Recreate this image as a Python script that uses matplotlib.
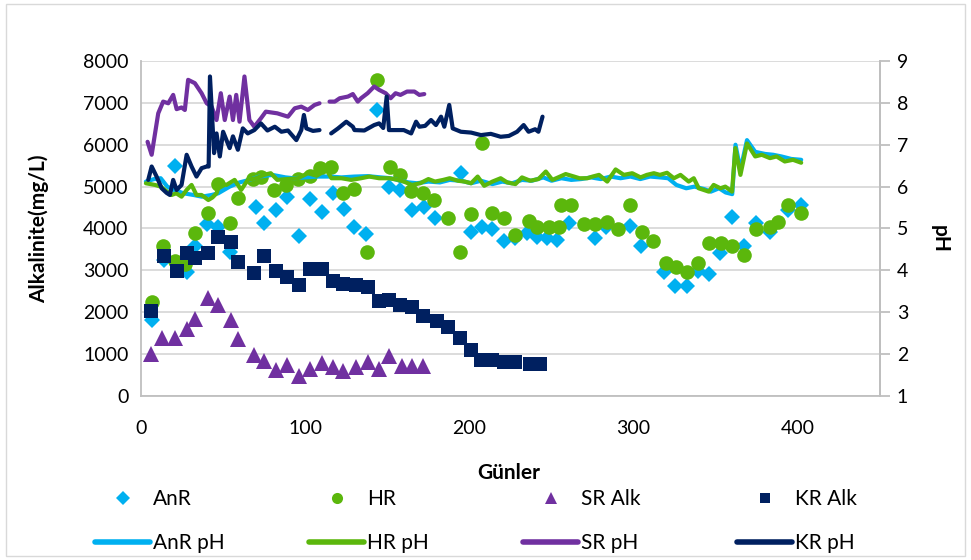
import numpy as np
import matplotlib
matplotlib.use("Agg")
import matplotlib.pyplot as plt
from matplotlib.lines import Line2D
from matplotlib.patches import Rectangle

plt.rcParams['font.family'] = ['Lato', 'DejaVu Sans']

# Alkalinity (mg/L) per reactor
anr_days = [6.5, 14, 20.7, 28, 33, 40, 47, 54, 70, 75, 82, 89, 96, 103, 110, 117, 123.5, 130, 137,
            144, 151, 158, 165, 172.5, 179, 195, 201, 207.6, 214, 221, 228, 235, 241, 247.5, 253.5,
            260.6, 276.4, 283, 297.7, 304.7, 318.7, 325.4, 332.5, 339.2, 346, 352.8, 360, 367.4,
            374.7, 383, 394, 402]
anr_alk = [1815, 3250, 5490, 2970, 3570, 4100, 4040, 3450, 4520, 4140, 4440, 4740, 3830, 4700, 4400,
           4840, 4460, 4040, 3880, 6830, 5000, 4920, 4440, 4520, 4240, 5320, 3920, 4040, 3980, 3690,
           3770, 3900, 3790, 3770, 3730, 4130, 3770, 4040, 4060, 3570, 2950, 2630, 2630, 2990, 2910,
           3410, 4280, 3580, 4140, 3920, 4430, 4560]

hr_days = [6.5, 13.6, 21, 27, 33, 40.5, 46.6, 54, 59, 68, 73, 81, 88.5, 95.6, 102.7, 109, 116, 123,
           130, 137.5, 144, 151.5, 158, 164.5, 171.5, 178.6, 187, 194.4, 201, 207.4, 214, 221, 228,
           236, 241, 248.5, 254.5, 255.6, 261.7, 270, 276.4, 283.5, 290.6, 297.7, 304.8, 311.7,
           319.4, 326, 332.5, 339.2, 346, 353, 360, 367.4, 374.7, 383, 388, 394, 402]
hr_alk = [2250, 3570, 3230, 3140, 3890, 4370, 5060, 4130, 4720, 5180, 5240, 4920, 5040, 5170, 5250,
          5440, 5480, 4840, 4940, 3450, 7550, 5460, 5280, 4900, 4840, 4670, 4260, 3450, 4350, 6050,
          4370, 4260, 3850, 4180, 4040, 4040, 4040, 4560, 4560, 4110, 4110, 4160, 3980, 4550, 3920,
          3710, 3180, 3090, 2970, 3180, 3650, 3650, 3570, 3370, 3980, 4040, 4160, 4550, 4380]

sr_days = [6, 13, 21, 28, 33, 41, 47, 55, 59, 69, 75, 82, 89, 96, 103, 110, 117, 123, 131, 138,
           145, 151, 159, 165, 172]
sr_alk = [1000, 1380, 1380, 1600, 1840, 2350, 2170, 1820, 1360, 980, 840, 620, 740, 480, 650, 790,
          690, 600, 690, 810, 650, 950, 720, 720, 720]

kr_days = [6, 14, 22, 28, 33, 41, 47, 55, 59, 69, 75, 82, 89, 96, 103, 110, 117, 123, 131, 138,
           145, 151, 158, 165, 172, 180, 187, 194, 201, 207, 214, 221, 228, 237, 243]
kr_alk = [2020, 3350, 2990, 3415, 3295, 3420, 3800, 3680, 3210, 2940, 3350, 2990, 2850, 2650, 3030,
          3030, 2750, 2670, 2650, 2610, 2280, 2290, 2170, 2130, 1920, 1800, 1650, 1390, 1100, 860,
          860, 800, 820, 760, 760]

# pH per reactor (secondary axis)
anr_ph_days = [3, 8, 12, 16, 20, 26, 32, 37, 43, 47, 54, 60, 66, 72, 80, 88, 93, 100, 107, 115,
               122, 130, 138, 146, 152, 158, 163, 168, 175, 182, 188, 195, 201, 207, 214, 220, 226,
               232, 238, 245, 250, 256, 262, 268, 274, 280, 286, 292, 298, 304, 310, 316, 321, 326,
               332, 337, 343, 347, 352, 356, 360, 362, 365, 369, 374, 380, 385, 390, 396, 402]
anr_ph = [6.12, 6.18, 6.20, 6.00, 5.92, 5.84, 5.80, 5.76, 5.80, 5.84, 6.00, 6.10, 6.16, 6.24, 6.28,
          6.22, 6.20, 6.22, 6.24, 6.24, 6.22, 6.24, 6.25, 6.22, 6.20, 6.14, 6.10, 6.08, 6.12, 6.10,
          6.16, 6.14, 6.08, 6.14, 6.06, 6.12, 6.08, 6.16, 6.14, 6.22, 6.14, 6.20, 6.16, 6.18, 6.22,
          6.18, 6.24, 6.20, 6.24, 6.18, 6.24, 6.22, 6.20, 6.04, 5.96, 6.00, 5.94, 5.88, 5.96, 5.86,
          5.82, 7.00, 6.40, 7.11, 6.83, 6.78, 6.76, 6.72, 6.66, 6.64]

hr_ph_days = [3, 8.5, 12, 14.6, 18.6, 21.5, 24.7, 27.8, 30.8, 33.8, 36.9, 41, 43.5, 46, 48, 52, 57,
              61, 65, 70, 75, 79, 83, 89, 95.6, 101.6, 107, 113, 116, 122, 128, 134, 139, 145, 151,
              157, 160, 165, 170, 175, 179, 184, 188, 193, 197, 201, 205, 209, 214, 219, 223, 228,
              232, 237, 242, 246.5, 250.5, 254, 258.6, 263.7, 267, 271.8, 275, 278.9, 283.9, 289,
              294, 299.1, 304.2, 308, 312.3, 316, 320.3, 324.5, 328.5, 333.5, 336.6, 339.6, 345.7,
              348.7, 352.8, 355.8, 359.9, 361.9, 365, 369, 374, 378, 383, 387, 392, 397, 402]
hr_ph = [6.08, 6.04, 6.00, 5.92, 5.80, 5.84, 5.76, 5.92, 6.04, 5.80, 5.80, 5.68, 5.74, 5.84, 6.08,
         6.04, 6.16, 5.92, 6.16, 6.20, 6.28, 6.32, 6.16, 6.18, 6.20, 6.32, 6.26, 6.40, 6.20, 6.20,
         6.16, 6.20, 6.24, 6.20, 6.20, 6.16, 6.12, 6.04, 6.08, 6.18, 6.12, 6.16, 6.20, 6.14, 6.12,
         6.08, 6.24, 6.02, 6.12, 6.20, 6.10, 6.06, 6.22, 6.14, 6.18, 6.36, 6.16, 6.22, 6.30, 6.24,
         6.20, 6.20, 6.24, 6.28, 6.12, 6.41, 6.28, 6.32, 6.22, 6.28, 6.32, 6.28, 6.33, 6.20, 6.28,
         6.12, 6.20, 5.96, 5.88, 6.04, 5.96, 6.00, 5.88, 6.92, 6.28, 7.03, 6.72, 6.76, 6.68, 6.72,
         6.60, 6.64, 6.57]

sr_ph_days = [4, 6.5, 10.5, 13.5, 16.6, 19.6, 21.7, 24.7, 26.7, 28.7, 32.8, 36.9, 40, 43, 46, 48.6,
              51, 54, 56, 58, 60, 63, 66, 69, 73, 76, 83, 89.5, 93.6, 97.6, 101.6, 105.7, 108.7,
              111.5, 114.8, 118, 121, 126, 129, 132, 134, 138, 142, 145, 149, 152, 155, 158, 162,
              166.5, 169.5, 172.5]
sr_ph = [7.07, 6.76, 7.75, 8.03, 7.99, 8.19, 7.85, 7.89, 7.83, 8.55, 8.47, 8.23, 7.99, 7.91, 7.59,
         8.23, 7.59, 8.15, 7.59, 8.19, 7.55, 8.63, 7.59, 7.43, 7.63, 7.79, 7.75, 7.67, 7.87, 7.91,
         7.83, 7.95, 7.99, np.nan, 8.03, 8.03, 8.11, 8.15, 8.21, 8.03, 8.11, 8.23, 8.39, 8.31, 8.23,
         8.11, 8.23, 8.19, 8.27, 8.27, 8.19, 8.21]

kr_ph_days = [4.4, 6.5, 9.5, 12.6, 15.6, 17.6, 19.6, 21.7, 24.7, 27.8, 30.8, 33.8, 36.9, 40, 41.2,
              42, 44.5, 46, 48, 50, 54, 56, 59, 62, 65, 69, 73, 77, 81.5, 85.5, 89.5, 94.6, 97.6,
              99.2, 100.7, 104.7, 108.7, 112, 115.8, 120, 125, 129, 130, 136, 142, 145, 147.5,
              149.6, 151, 156, 160, 164.5, 167.5, 169.5, 173, 176.6, 179.6, 182.7, 184.7, 187.7,
              189.8, 194.8, 201, 207, 213, 219, 224, 229, 233, 236, 240, 242, 244.5]
kr_ph = [6.16, 6.48, 6.24, 5.96, 5.85, 5.80, 6.16, 5.92, 6.04, 6.76, 6.48, 6.24, 6.44, 6.48, 6.48,
         8.63, 6.80, 7.27, 6.72, 7.31, 6.92, 7.20, 6.88, 7.39, 7.27, 7.35, 7.51, 7.34, 7.43, 7.31,
         7.34, 7.11, 7.35, 7.71, 7.39, 7.33, 7.35, np.nan, 7.27, 7.39, 7.55, 7.43, 7.35, 7.34, 7.47,
         7.51, 7.40, 8.15, 7.35, 7.35, 7.35, 7.27, 7.55, 7.43, 7.45, 7.59, 7.47, 7.67, 7.43, 7.95,
         7.39, 7.31, 7.29, 7.23, 7.26, 7.19, 7.21, 7.31, 7.47, 7.31, 7.37, 7.31, 7.67]

c_anr = '#00B0F0'
c_hr = '#5BB70C'
c_sr = '#7030A0'
c_kr = '#002060'

W, H = 971, 560
fig = plt.figure(figsize=(W / 100, H / 100), dpi=100)
fig.patches.append(Rectangle((0.006, 0.008), 0.988, 0.984, transform=fig.transFigure,
                             fill=False, edgecolor='#d9d9d9', linewidth=1))
ax = fig.add_axes([0.1452, 0.2929, 0.7611, 0.5982])

ax.plot(anr_days, anr_alk, 'D', color=c_anr, ms=8.5, mew=0, zorder=2)
ax.plot(hr_days, hr_alk, 'o', color=c_hr, ms=10.5, mew=0, zorder=3)
ax.plot(sr_days, sr_alk, '^', color=c_sr, ms=11, mew=0, zorder=4)
ax.plot(kr_days, kr_alk, 's', color=c_kr, ms=9.5, mew=0, zorder=5)

ax.set_xlim(0, 450)
ax.set_ylim(0, 8000)
ax.set_xticks([0, 100, 200, 300, 400])
ax.set_yticks(np.arange(0, 8001, 1000))
ax.yaxis.grid(True, color='#d9d9d9', linewidth=1.3)
ax.set_axisbelow(True)
ax.spines['top'].set_visible(False)
for side in ['left', 'bottom', 'right']:
    ax.spines[side].set_color('#bfbfbf')
    ax.spines[side].set_linewidth(1.3)
ax.tick_params(axis='both', length=0, labelsize=14, colors='black')
ax.tick_params(axis='y', pad=9)
ax.tick_params(axis='x', pad=17)
ax.set_ylabel('Alkalinite(mg/L)', fontsize=15, fontweight='bold')
ax.yaxis.set_label_coords(-0.125, 0.5)
ax.set_xlabel('Günler', fontsize=15, fontweight='bold')
ax.xaxis.set_label_coords(0.498, -0.20)

ax2 = ax.twinx()
ax2.patch.set_visible(False)
for d, v, c in [(anr_ph_days, anr_ph, c_anr), (hr_ph_days, hr_ph, c_hr),
                (sr_ph_days, sr_ph, c_sr), (kr_ph_days, kr_ph, c_kr)]:
    ax2.plot(d, v, color=c, lw=3, solid_joinstyle='round', solid_capstyle='round')
ax2.set_ylim(1, 9)
ax2.set_yticks(np.arange(1, 10, 1))
for side in ['top', 'left', 'bottom']:
    ax2.spines[side].set_visible(False)
ax2.spines['right'].set_color('#bfbfbf')
ax2.spines['right'].set_linewidth(1.3)
ax2.tick_params(axis='y', length=7, width=1.3, color='#bfbfbf', labelsize=14, pad=5)
ax2.set_ylabel('pH', fontsize=15, fontweight='bold', rotation=270)
ax2.yaxis.set_label_coords(1.095, 0.47)

# legend: 4 evenly spaced columns, markers on the first row, pH lines on the second
col_x = [95, 309, 523, 737]
row_y = [499, 543]
entries = [
    [(Line2D([], [], ls='none', marker='D', color=c_anr, ms=7, mew=0), 'AnR'),
     (Line2D([], [], color=c_anr, lw=4, solid_capstyle='round'), 'AnR pH')],
    [(Line2D([], [], ls='none', marker='o', color=c_hr, ms=8, mew=0), 'HR'),
     (Line2D([], [], color=c_hr, lw=4, solid_capstyle='round'), 'HR pH')],
    [(Line2D([], [], ls='none', marker='^', color=c_sr, ms=8, mew=0), 'SR Alk'),
     (Line2D([], [], color=c_sr, lw=4, solid_capstyle='round'), 'SR pH')],
    [(Line2D([], [], ls='none', marker='s', color=c_kr, ms=7, mew=0), 'KR Alk'),
     (Line2D([], [], color=c_kr, lw=4, solid_capstyle='round'), 'KR pH')],
]
for x, col in zip(col_x, entries):
    for y, (h, lab) in zip(row_y, col):
        leg = fig.legend([h], [lab], loc='center left',
                         bbox_to_anchor=(x / W, 1 - y / H), frameon=False, fontsize=15,
                         handlelength=2.64, handletextpad=0.15, borderpad=0,
                         borderaxespad=0)

fig.savefig('out.png', dpi=100)
